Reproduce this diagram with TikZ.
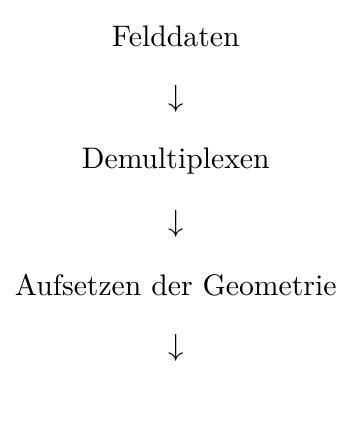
\documentclass[tikz,border=0pt]{standalone}
\usepackage{amsmath}
\usetikzlibrary{positioning}
\tikzset{
  stage/.style={font=\fontsize{10.65}{13}\selectfont,inner sep=1pt},
  flow/.style={font=\fontsize{10.65}{13}\selectfont,inner sep=1pt},
}
\begin{document}
\begin{tikzpicture}[node distance=22.3pt,on grid]
  \useasboundingbox (0,0) rectangle (126pt,154.5pt);
  % pipeline steps
  \node[stage] (feld) at (63pt,141.3pt) {Felddaten};
  \node[flow,below=of feld] (a1) {$\downarrow$};
  \node[stage,below=of a1] (demux) {Demultiplexen};
  \node[flow,below=of demux] (a2) {$\downarrow$};
  \node[stage,below=of a2] (geom) {Aufsetzen der Geometrie};
  \node[flow,below=of geom] (a3) {$\downarrow$};
\end{tikzpicture}
\end{document}
